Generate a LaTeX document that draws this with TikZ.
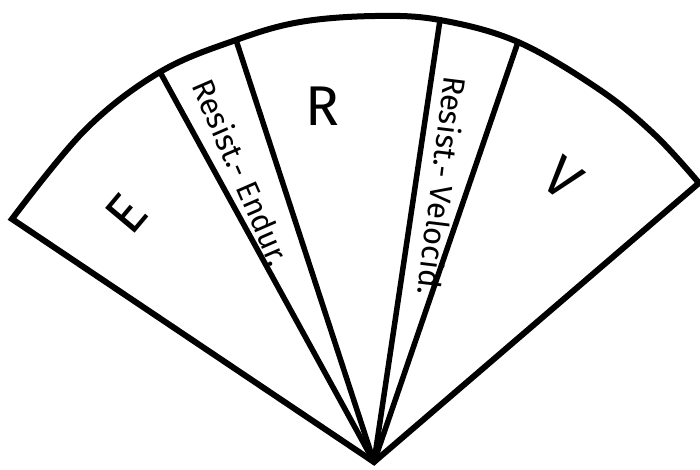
\documentclass[tikz,border=0pt]{standalone}
\usepackage{fontspec}
\setmainfont{Fira Sans}
\begin{document}
\begin{tikzpicture}[x=1pt,y=-1pt,
  outline/.style={line width=6pt,line join=miter},
  divider/.style={line width=5.5pt,line cap=round},
  strip/.style={font=\fontsize{31}{31}\selectfont,inner sep=0pt},
  big/.style={font=\fontsize{56}{56}\selectfont,inner sep=0pt}]
\useasboundingbox (0,0) rectangle (700,469);
\coordinate (apex) at (374,462);
\coordinate (L) at (12,219);
\coordinate (Rt) at (699,183);
\coordinate (d1) at (160,72);
\coordinate (d2) at (236,40);
\coordinate (d3) at (440,20);
\coordinate (d4) at (518,42);
\draw[outline] (apex) -- plot[smooth,tension=0.6] coordinates {(L) (85,130) (d1) (d2) (300,22) (375,16) (d3) (d4) (600,90) (655,135) (Rt)} -- cycle;
\draw[divider] (d1) -- (apex);
\draw[divider] (d2) -- (apex);
\draw[divider] (d3) -- (apex);
\draw[divider] (d4) -- (apex);
\node[strip,rotate=-66.5] (endur) at (242,172) {Resist.- Endur.};
\node[strip,rotate=-97] (veloc) at (443,186) {Resist.- Velocid.};
\node[big,rotate=50] (E) at (126,214) {E};
\node[big] (R) at (322,106) {R};
\node[big,rotate=-39] (V) at (563,178) {V};
\end{tikzpicture}
\end{document}
